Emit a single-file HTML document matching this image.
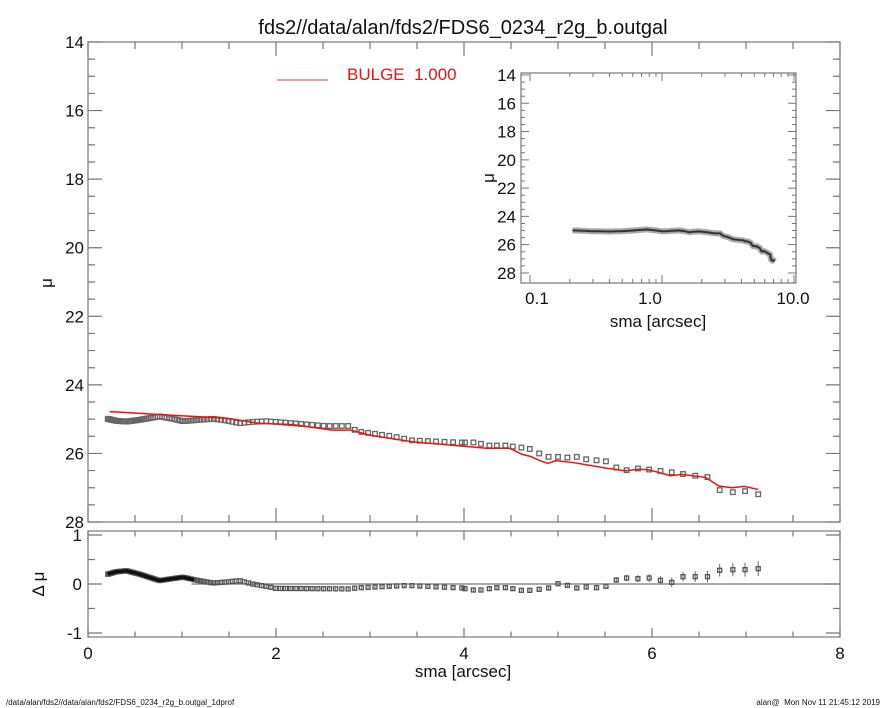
<!DOCTYPE html>
<html><head><meta charset="utf-8"><style>
html,body{margin:0;padding:0;background:#fff;}
svg{display:block;font-family:"Liberation Sans",sans-serif;}
</style></head><body>
<svg id="s" width="885" height="708" viewBox="0 0 885 708" xmlns="http://www.w3.org/2000/svg"></svg>
<script>
const S=document.getElementById('s');let h='';
const X0=88,X1=840,Y0=42,Y1=522;
const px=x=>X0+(x/8)*(X1-X0);
const py=m=>Y0+(m-14)/14*(Y1-Y0);
const RT=531,RB=637;const ry=r=>584-r*49;
const IL=521,IR=796,IT=73,IB=283;
const ix=x=>662+Math.log10(x)*132;
const iy=m=>75+(m-14)*14.14;
const obsK=[[0.21,24.99],[0.3,25.05],[0.41,25.07],[0.55,25.02],[0.76,24.92],[0.9,24.99],[1.01,25.06],[1.15,25.03],[1.33,24.99],[1.47,25.04],[1.61,25.12],[1.75,25.08],[1.9,25.06],[2.18,25.12],[2.53,25.2],[2.8,25.2],[2.85,25.35],[3.24,25.5],[3.45,25.62],[3.95,25.68]];
const resK=[[0.21,0.2],[0.3,0.25],[0.41,0.27],[0.55,0.2],[0.76,0.07],[0.9,0.11],[1.01,0.14],[1.15,0.08],[1.33,0.02],[1.47,0.04],[1.61,0.07],[1.75,0.0],[1.9,-0.05],[2.0,-0.09],[2.8,-0.1],[2.85,-0.08],[3.4,-0.03],[3.95,-0.08]];
const interp=(K,x)=>{for(let i=0;i<K.length-1;i++){if(x<=K[i+1][0]){const t=(x-K[i][0])/(K[i+1][0]-K[i][0]);return K[i][1]+t*(K[i+1][1]-K[i][1]);}}return K[K.length-1][1];};
const late=[[4.01,25.68],[4.1,25.68],[4.18,25.72],[4.27,25.77],[4.35,25.77],[4.44,25.77],[4.52,25.8],[4.61,25.83],[4.70,25.87],[4.80,26.0],[4.90,26.1],[5.0,26.1],[5.1,26.12],[5.2,26.1],[5.3,26.17],[5.41,26.2],[5.51,26.23],[5.62,26.41],[5.73,26.49],[5.85,26.44],[5.97,26.47],[6.09,26.51],[6.21,26.55],[6.33,26.6],[6.46,26.65],[6.59,26.69],[6.72,27.07],[6.86,27.13],[6.99,27.1],[7.13,27.19]];
const lateZ=[656,660,660,656,653,653,656,661,661,658,654,641,646,654,651,653,649,630,624,626,624,631,637,620,620,620,601,599,599,596];
let pts=[];let x=0.21;
while(x<3.98){pts.push([x,interp(obsK,x),interp(resK,x)]);x+=0.008+0.022*x;}
late.forEach((p,i)=>pts.push([p[0],p[1],(214-lateZ[i]/3)/49]));
const model=[[0.23,24.78],[0.91,24.89],[1.47,24.97],[1.82,25.12],[2.18,25.16],[2.6,25.32],[2.8,25.32],[3.0,25.47],[3.45,25.66],[3.95,25.78],[4.24,25.85],[4.49,25.85],[4.61,26.02],[4.71,26.09],[4.80,26.2],[4.89,26.29],[4.98,26.21],[5.17,26.27],[5.51,26.43],[5.72,26.51],[5.86,26.46],[5.97,26.48],[6.2,26.65],[6.32,26.61],[6.57,26.7],[6.71,26.95],[6.85,27.0],[6.98,26.96],[7.13,27.05]];
h+=`<text x="463" y="34" font-size="20" text-anchor="middle" fill="#111">fds2//data/alan/fds2/FDS6_0234_r2g_b.outgal</text>`;
const ax='stroke="#777" stroke-width="1.2" fill="none"';
h+=`<rect x="${X0}" y="${Y0}" width="${X1-X0}" height="${Y1-Y0}" ${ax}/>`;
h+=`<rect x="${X0}" y="${RT}" width="${X1-X0}" height="${RB-RT}" ${ax}/>`;
let t='';
for(let v=0;v<=8.001;v+=0.5){const X=px(v),L=(Math.abs(v%2)<1e-6)?14:7;
 t+=`M${X} ${Y1}v${-L}M${X} ${Y0}v${L}M${X} ${RB}v${-L/2-2}M${X} ${RT}v${L/2+2}`;}
for(let m=14;m<=28.001;m+=0.5){const Y=py(m),L=(Math.abs(m%2)<1e-6)?14:7;t+=`M${X0} ${Y}h${L}M${X1} ${Y}h${-L}`;}
for(let r=-1;r<=1.001;r+=0.5){const Y=ry(r),L=(Math.abs(r%1)<1e-6)?14:7;t+=`M${X0} ${Y}h${L}M${X1} ${Y}h${-L}`;}
h+=`<path d="${t}" stroke="#777" stroke-width="1.2"/>`;
for(let m=14;m<=28;m+=2)h+=`<text x="${X0-4}" y="${py(m)+6}" font-size="17" text-anchor="end" fill="#111">${m}</text>`;
[[1,'1'],[0,'0'],[-1,'-1']].forEach(a=>h+=`<text x="${X0-6}" y="${ry(a[0])+6}" font-size="17" text-anchor="end" fill="#111">${a[1]}</text>`);
for(let v=0;v<=8;v+=2)h+=`<text x="${px(v)}" y="659" font-size="17" text-anchor="middle" fill="#111">${v}</text>`;
h+=`<text x="463" y="677" font-size="17" text-anchor="middle" fill="#111">sma [arcsec]</text>`;
h+=`<text transform="translate(52,283) rotate(-90)" font-size="17" text-anchor="middle" fill="#111">μ</text>`;
h+=`<text transform="translate(44,584) rotate(-90)" font-size="17" text-anchor="middle" fill="#111">Δ μ</text>`;
h+=`<path d="M${px(1.1)} 584H${X1}" stroke="#777" stroke-width="1.2"/>`;
h+=`<path d="M277 80H328" stroke="#e33" stroke-width="1"/><text x="347" y="80" font-size="17" fill="#e11">BULGE&#160;&#160;1.000</text>`;
let sq='',rs='',eb='';
pts.forEach(p=>{const X=px(p[0]),Y=py(p[1]);sq+=`<rect x="${X-2.3}" y="${Y-2.3}" width="4.6" height="4.6"/>`;
 const R=ry(p[2]);const e=p[0]>5.5?(p[0]-5.5)*3+2.5:1.5;eb+=`M${X} ${R-e}v${2*e}`;
 rs+=`<rect x="${X-2}" y="${R-2}" width="4" height="4"/>`;});
h+=`<g fill="none" stroke="#666" stroke-width="1.3">${sq}</g>`;
h+=`<path d="${eb}" stroke="#666" stroke-width="1"/>`;
h+=`<g fill="none" stroke="#555" stroke-width="1.3">${rs}</g>`;
let dl='';pts.filter(p=>p[0]<1.15).forEach((p,i)=>dl+=(i?'L':'M')+px(p[0])+' '+ry(p[2]));
h+=`<path d="${dl}" stroke="#111" stroke-width="3.5" fill="none" stroke-linejoin="round"/>`;
let ml='';model.forEach((p,i)=>ml+=(i?'L':'M')+px(p[0])+' '+py(p[1]));
h+=`<path d="${ml}" stroke="#e11" stroke-width="1.5" fill="none"/>`;
h+=`<rect x="${IL}" y="${IT}" width="${IR-IL}" height="${IB-IT}" fill="#fff" ${ax}/>`;
let it='';
for(let m=14;m<=28.001;m+=0.5){const Y=iy(m);if(Y<IT||Y>IB)continue;const L=(Math.abs(m%2)<1e-6)?8:4;it+=`M${IL} ${Y}h${L}M${IR} ${Y}h${-L}`;}
[0.1,1,10].forEach(d=>{for(let k=1;k<10;k++){const v=d*k,X=ix(v);if(X<IL||X>IR)continue;const L=k==1?8:4;it+=`M${X} ${IB}v${-L}M${X} ${IT}v${L}`;}});
h+=`<path d="${it}" stroke="#777" stroke-width="1"/>`;
for(let m=14;m<=28;m+=2)h+=`<text x="${IL-5}" y="${iy(m)+6}" font-size="17" text-anchor="end" fill="#111">${m}</text>`;
[['0.1',537],['1.0',650],['10.0',793]].forEach(a=>h+=`<text x="${a[1]}" y="304" font-size="17" text-anchor="middle" fill="#111">${a[0]}</text>`);
h+=`<text x="658" y="327" font-size="17" text-anchor="middle" fill="#111">sma [arcsec]</text>`;
h+=`<text transform="translate(494,178) rotate(-90)" font-size="17" text-anchor="middle" fill="#111">μ</text>`;
let il='';pts.forEach((p,i)=>il+=(i?'L':'M')+ix(p[0]).toFixed(1)+' '+iy(p[1]).toFixed(1));
h+=`<path d="${il}" stroke="#aaa" stroke-width="6" fill="none" stroke-linejoin="round"/><path d="${il}" stroke="#333" stroke-width="2" fill="none" stroke-linejoin="round"/>`;
h+=`<text x="6" y="705" font-size="8" fill="#111">/data/alan/fds2//data/alan/fds2/FDS6_0234_r2g_b.outgal_1dprof</text>`;
h+=`<text x="880" y="705" font-size="8" text-anchor="end" fill="#111">alan@&#160;&#160;Mon Nov 11 21:45:12 2019</text>`;
S.innerHTML=h;
</script>
</body></html>
